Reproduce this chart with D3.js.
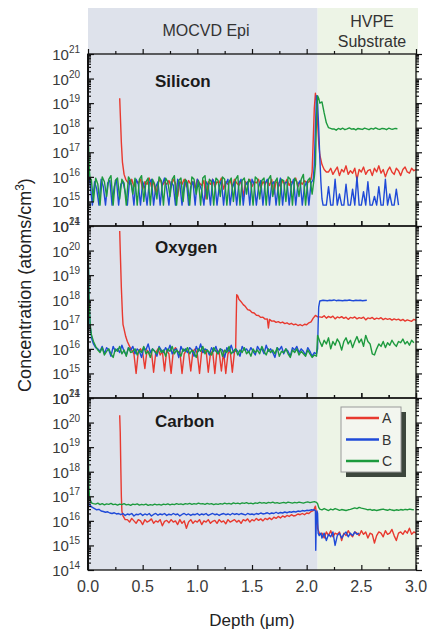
<!DOCTYPE html>
<html>
<head>
<meta charset="utf-8">
<script src="https://cdn.jsdelivr.net/npm/d3@7"></script>
<style>
  body { margin: 0; background: #fff; }
  text { font-family: "Liberation Sans", Arial, sans-serif; }
</style>
</head>
<body>
<div id="chart"></div>
<script>
// values are log10(concentration), depth in um
// pairs = [depth, log10 c] ; noise blocks are sampled every 0.02 um
var step = 0.02;

var siA_spike = [[0.29,19.2],[0.295,18.6],[0.305,17.4],[0.315,16.6],[0.33,16.1],[0.345,15.9]];
var siA_epi = [15.8,15.7,15.9,15.6,15.85,15.75,15.9,15.5,15.8,15.7,
  15.95,15.6,15.8,15.3,15.75,15.9,15.65,15.8,15.7,15.85,
  15.6,15.9,15.75,15.2,15.8,15.7,15.9,15.6,15.85,15.7,
  15.8,15.55,15.9,15.75,15.65,15.85,15.1,15.8,15.7,15.9,
  15.6,15.8,15.75,15.95,15.5,15.8,15.7,15.85,15.6,15.9,
  15.75,15.65,15.85,15.2,15.8,15.7,15.9,15.6,15.8,15.75,
  15.9,15.55,15.8,15.7,15.85,15.65,15.9,15.3,15.8,15.75,
  15.6,15.85,15.7,15.9,15.65,15.8,15.75,15.95,15.6,15.8,
  15.7,15.85,15.75,15.8,15.9];
var siA_peak = [[2.05,16.2],[2.06,17.5],[2.07,18.8],[2.08,19.4],[2.09,19.1],[2.10,18.2],[2.11,17.4],[2.12,16.9],[2.14,16.5],[2.16,16.3],[2.18,16.2]];
var siA_sub = [16.2,16.35,16.1,16.25,16.4,16.05,16.3,16.2,16.45,16.1,
  16.25,16.15,16.35,15.9,16.3,16.2,16.4,16.1,16.25,16.3,
  16.05,16.35,16.2,16.45,16.15,16.3,16.0,16.25,16.4,16.2,
  16.1,16.35,16.25,16.05,16.3,16.4,16.2,16.15,16.35,16.25,16.3];

var siB_surf = [[0,16.4],[0.01,16.0]];
var siB_epi = [15.7,14.85,15.8,15.5,14.85,15.9,15.6,14.85,15.75,15.85,
  14.85,15.6,15.9,14.85,15.7,15.8,15.4,14.85,15.85,15.65,
  14.85,15.9,15.7,14.85,15.8,15.55,14.85,15.75,15.9,14.85,
  15.6,15.8,14.85,15.7,15.95,15.5,14.85,15.8,15.65,14.85,
  15.9,15.7,14.85,15.75,15.85,14.85,15.6,15.8,14.85,15.9,
  15.7,15.45,14.85,15.8,15.65,14.85,15.9,15.75,14.85,15.6,
  15.85,14.85,15.7,15.9,14.85,15.55,15.8,14.85,15.75,15.9,
  14.85,15.65,15.8,14.85,15.9,15.7,14.85,15.6,15.85,14.85,
  15.75,15.9,14.85,15.7,15.8,14.85,15.6,15.95,14.85,15.75,
  15.8,14.85,15.65,15.9,14.85,15.7,15.85,14.85,15.6,15.8,
  14.85,15.75,15.9];
var siB_peak = [[2.07,16.5],[2.08,18.0],[2.09,19.3],[2.10,19.0],[2.11,18.0],[2.12,16.8],[2.13,15.8],[2.14,15.1],[2.15,14.85]];
var siB_sub = [14.85,14.85,15.6,14.85,14.85,15.9,14.85,15.3,14.85,14.85,
  15.7,14.85,14.85,15.5,14.85,16.0,14.85,14.85,15.4,14.85,
  15.8,14.85,14.85,15.2,14.85,15.6,14.85,14.85,15.9,14.85,
  15.3,14.85,14.85,15.5,14.85];

var siC_surf = [[0,18.1],[0.005,17.3],[0.012,16.3],[0.02,15.9]];
var siC_epi = [15.9,15.0,15.95,15.7,14.85,16.0,15.8,15.2,15.9,16.05,
  14.85,15.85,15.95,15.1,15.9,15.75,14.85,16.0,15.85,15.3,
  15.95,14.85,15.9,16.05,15.0,15.8,15.95,14.85,15.9,15.7,
  15.1,16.0,15.85,14.85,15.95,15.8,15.2,15.9,16.05,14.85,
  15.85,15.95,15.0,15.9,15.75,14.85,16.0,15.9,15.3,15.85,
  14.85,15.95,16.05,15.1,15.9,15.8,14.85,15.95,15.85,15.2,
  16.0,15.9,14.85,15.8,15.95,15.0,15.9,16.05,14.85,15.85,
  15.95,15.3,15.9,15.75,14.85,16.0,15.9,15.1,15.85,15.95,
  14.85,15.9,16.05,15.2,15.8,15.95,14.85,15.9,15.85,15.0,
  16.0,15.9,14.85,15.95,15.8,15.2,15.9,16.1,14.85,15.85,
  15.95,15.3,16.0];
var siC_peak = [[2.08,16.5],[2.09,18.4],[2.10,19.3],[2.11,19.2],[2.12,19.0],[2.14,19.05],[2.16,18.6],[2.18,18.2],[2.20,18.0],[2.23,17.95]];
var siC_sub = [17.95,17.9,17.97,17.93,17.98,17.92,17.95,17.99,17.94,17.96,
  17.91,17.97,17.95,17.93,17.98,17.95,17.92,17.97,17.94,17.99,
  17.95,17.93,17.97,17.96,17.92,17.98,17.95,17.94,17.97,17.96];

var oxA_spike = [[0.29,20.8],[0.295,20.0],[0.305,18.5],[0.315,17.4],[0.32,17.0],[0.33,16.8],[0.345,16.5],[0.36,16.3],[0.38,16.1]];
var oxA_epi = [15.95,15.8,15.0,15.9,16.0,15.85,15.2,15.95,15.8,15.9,
  15.05,15.85,16.0,15.75,15.9,15.1,15.95,15.8,15.0,15.9,
  16.05,15.85,15.9,15.0,15.8,15.95,15.85,15.1,15.9,16.0,
  15.8,15.0,15.9,15.85,15.95,15.05,15.8,15.9,15.0,15.95,
  15.85,15.1,15.9,15.0,15.8,15.95,15.05,15.9];
var oxA_bump = [[1.35,15.9],[1.36,18.2],[1.37,18.15],[1.38,18.02],[1.40,17.92],[1.42,17.8],[1.44,17.72],[1.46,17.6],[1.48,17.57],[1.50,17.48],
  [1.52,17.46],[1.54,17.37],[1.56,17.36],[1.58,17.28],[1.60,17.29],[1.62,17.21],[1.64,17.22],[1.65,16.85],[1.66,17.2],[1.68,17.13],
  [1.70,17.14],[1.72,17.08],[1.74,17.11],[1.76,17.06],[1.78,17.09],[1.80,17.03],[1.82,17.06],[1.84,17.0],[1.86,17.04],[1.88,16.98],
  [1.90,17.01],[1.92,16.95],[1.94,16.99],[1.96,16.94],[1.98,17.0],[2.00,16.98],[2.02,17.06],[2.04,17.1],[2.06,17.25],[2.08,17.36],[2.10,17.3]];
var oxA_sub = [17.3,17.28,17.35,17.25,17.32,17.27,17.33,17.22,17.3,17.26,
  17.31,17.24,17.29,17.2,17.28,17.25,17.3,17.22,17.27,17.24,
  17.29,17.18,17.26,17.23,17.28,17.2,17.25,17.22,17.27,17.19,
  17.24,17.2,17.23,17.17,17.22,17.18,17.21,17.15,17.2,17.13,
  17.18,17.15,17.12,17.2,17.16];

var oxB_surf = [[0,20.2],[0.005,19.0],[0.01,17.8],[0.02,16.9],[0.035,16.4],[0.05,16.2],[0.07,16.05]];
var oxB_epi = [16.0,15.9,16.1,15.8,16.05,15.95,15.7,16.1,15.9,16.0,
  15.85,16.15,15.9,15.75,16.05,15.95,16.1,15.8,16.0,15.9,
  15.65,16.05,15.95,16.2,15.85,16.0,15.9,15.7,16.1,15.95,
  15.85,16.05,15.9,16.15,15.8,15.95,16.0,15.65,16.1,15.9,
  16.0,15.85,16.05,15.95,15.7,16.1,15.9,16.2,15.85,16.0,
  15.95,15.75,16.05,15.9,16.1,15.8,16.0,15.95,15.65,16.05,
  15.9,16.15,15.85,16.0,15.9,15.7,16.1,15.95,16.0,15.85,
  16.05,15.9,15.75,16.1,15.95,16.0,15.8,16.15,15.9,16.0,
  15.85,15.65,16.05,15.95,16.1,15.8,16.0,15.9,15.7,16.05,
  15.95,16.1,15.85,16.0,15.9,15.75,16.05,15.9,15.7,15.85,
  15.8];
var oxB_step = [[2.10,16.0],[2.105,17.0],[2.11,17.7],[2.12,17.95],[2.15,17.98]];
var oxB_sub = [17.97,17.96,17.98,17.97,17.99,17.96,17.98,17.97,17.96,17.98,
  17.97,17.99,17.97,17.96,17.98,17.97,17.98,17.96,17.97,17.98];

var oxC_surf = [[0,20.4],[0.005,19.2],[0.01,18.0],[0.02,17.0],[0.03,16.6],[0.05,16.3],[0.07,16.1]];
var oxC_epi = [15.95,15.85,16.05,15.75,15.9,16.0,15.8,15.65,16.0,15.9,
  16.1,15.8,15.95,15.7,16.05,15.85,15.9,16.0,15.75,15.95,
  15.85,16.1,15.8,15.9,15.65,16.0,15.9,15.8,16.05,15.85,
  15.95,15.7,16.0,15.9,16.1,15.8,15.95,15.85,15.7,16.0,
  15.9,16.05,15.8,15.95,15.85,15.65,16.0,15.9,16.1,15.8,
  15.95,15.85,15.75,16.05,15.9,15.8,16.0,15.7,15.95,15.85,
  16.1,15.8,15.9,16.0,15.75,15.95,15.85,16.05,15.8,15.9,
  15.7,16.0,15.85,15.95,15.8,16.1,15.9,15.75,16.0,15.85,
  15.95,15.8,16.05,15.7,15.9,15.85,16.0,15.8,15.65,15.95,
  15.85,16.0,15.75,15.9,15.8,15.7,15.95,15.8,15.65,15.75,
  15.7];
var oxC_sub = [16.55,16.3,16.1,16.35,16.2,16.45,16.0,16.3,16.15,16.4,
  16.25,15.95,16.3,16.45,16.2,16.35,16.05,16.3,16.5,16.25,
  16.4,16.1,16.55,16.3,16.2,15.8,15.75,16.0,16.2,16.1,
  16.3,16.05,16.25,16.15,16.35,16.2,16.1,16.3,16.25,16.4,
  16.2,16.3,16.15,16.35,16.25];

var cA_spike = [[0.29,20.3],[0.295,19.6],[0.30,18.2],[0.305,17.0],[0.31,16.4],[0.32,16.2],[0.34,16.05]];
var cA_epi = [16.05,15.95,16.1,16.0,15.9,16.05,16.0,15.85,16.05,15.95,
  16.0,16.08,15.9,16.0,15.95,16.05,15.8,15.98,16.02,15.92,
  16.05,15.95,16.0,15.85,16.05,15.9,16.0,15.7,15.95,16.05,
  15.9,16.0,15.95,16.05,15.85,16.0,15.95,16.05,15.9,15.98,
  16.02,15.9,16.05,15.95,16.0,15.88,16.05,15.95,16.0,16.05,
  15.95,16.02,15.9,16.05,16.0,16.08,15.95,16.05,16.0,16.1,
  16.02,16.08,16.0,16.1,16.05,16.12,16.05,16.15,16.1,16.18,
  16.12,16.2,16.15,16.22,16.18,16.25,16.2,16.22,16.28,16.25,
  16.3,16.25,16.32,16.3,16.38,16.42];
var cA_edge = [[2.07,16.5],[2.08,16.6],[2.09,16.3],[2.10,15.7],[2.12,15.45]];
var cA_sub = [15.5,15.3,15.55,15.4,15.6,15.35,15.5,15.45,15.55,15.2,
  15.5,15.4,15.6,15.45,15.35,15.55,15.5,15.4,15.6,15.45,
  15.55,15.3,15.5,15.45,15.1,15.4,15.55,15.5,15.35,15.6,
  15.45,15.5,15.65,15.4,15.2,15.5,15.55,15.45,15.6,15.5,
  15.7,15.45,15.55,15.5];

var cB_epi = [16.75,16.62,16.55,16.5,16.45,16.47,16.4,16.38,16.35,16.37,
  16.32,16.3,16.33,16.28,16.3,16.25,16.3,16.22,16.28,16.25,
  16.3,16.2,16.27,16.25,16.3,16.22,16.28,16.24,16.3,16.2,
  16.26,16.3,16.23,16.28,16.25,16.3,16.22,16.27,16.24,16.3,
  16.25,16.28,16.2,16.26,16.3,16.24,16.28,16.22,16.27,16.25,
  16.3,16.23,16.28,16.25,16.3,16.22,16.26,16.3,16.25,16.28,
  16.22,16.27,16.3,16.25,16.28,16.24,16.3,16.26,16.29,16.25,
  16.3,16.27,16.24,16.3,16.26,16.28,16.25,16.3,16.27,16.32,
  16.28,16.3,16.33,16.28,16.32,16.3,16.35,16.3,16.34,16.32,
  16.36,16.33,16.37,16.35,16.38,16.36,16.4,16.38,16.42,16.4,
  16.43,16.42,16.45,16.44];
var cB_edge = [[2.07,16.45],[2.08,16.4],[2.083,14.8],[2.087,15.8],[2.095,16.4],[2.10,16.3],[2.105,15.5],[2.115,15.4],[2.13,15.5]];
var cB_sub = [15.3,15.5,15.2,15.45,15.35,15.55,15.0,15.4,15.5,15.3,
  15.45,15.55,15.35,15.5,15.4,15.55,15.45,15.5];

var cC_surf = [[0,20.1],[0.004,18.6],[0.008,17.4],[0.014,16.95],[0.025,16.8],[0.035,16.72]];
var cC_epi = [16.7,16.68,16.72,16.66,16.7,16.65,16.69,16.67,16.71,16.66,
  16.68,16.64,16.68,16.66,16.7,16.65,16.67,16.63,16.68,16.66,
  16.69,16.64,16.67,16.65,16.68,16.63,16.66,16.64,16.68,16.65,
  16.67,16.64,16.68,16.66,16.69,16.65,16.68,16.66,16.7,16.67,
  16.69,16.66,16.7,16.68,16.71,16.67,16.7,16.68,16.72,16.69,
  16.7,16.67,16.71,16.68,16.7,16.66,16.69,16.67,16.7,16.68,
  16.72,16.69,16.71,16.68,16.73,16.7,16.72,16.69,16.73,16.71,
  16.74,16.7,16.72,16.69,16.73,16.71,16.75,16.72,16.74,16.71,
  16.75,16.73,16.76,16.72,16.74,16.71,16.73,16.75,16.72,16.76,
  16.74,16.72,16.75,16.73,16.76,16.74,16.72,16.75,16.77,16.74,
  16.76,16.78,16.75];
var cC_edge = [[2.10,16.7],[2.11,16.55]];
var cC_sub = [16.48,16.45,16.5,16.46,16.42,16.48,16.45,16.5,16.47,16.43,
  16.46,16.44,16.42,16.45,16.47,16.5,16.53,16.5,16.55,16.52,
  16.5,16.48,16.45,16.47,16.43,16.45,16.42,16.44,16.46,16.48,
  16.45,16.43,16.47,16.44,16.42,16.45,16.43,16.46,16.44,16.47,
  16.45,16.48,16.46,16.45];

var samples = ["A", "B", "C"];
var colors = ["#e8392f", "#1f4ad8", "#1d9a3e"];
var elements = ["Silicon", "Oxygen", "Carbon"];
var decades = [14, 15, 16, 17, 18, 19, 20, 21];
var xTicks = [0, 0.5, 1.0, 1.5, 2.0, 2.5, 3.0];
var interfaceDepth = 2.1;

// a sampled block starting at depth x0
function block(x0, vals) {
  return vals.map(function(v, i) { return [x0 + i * step, v]; });
}

(function() {
  var panels = [
    { ty: 33, series: [
      [].concat(siA_spike, block(0.36, siA_epi), siA_peak, block(2.2, siA_sub)),
      [].concat(siB_surf, block(0.02, siB_epi), siB_peak, block(2.16, siB_sub)),
      [].concat(siC_surf, block(0.03, siC_epi), siC_peak, block(2.25, siC_sub))
    ]},
    { ty: 27, series: [
      [].concat(oxA_spike, block(0.40, oxA_epi), oxA_bump, block(2.12, oxA_sub)),
      [].concat(oxB_surf, block(0.09, oxB_epi), oxB_step, block(2.17, oxB_sub)),
      [].concat(oxC_surf, block(0.09, oxC_epi), block(2.10, oxC_sub))
    ]},
    { ty: 29, series: [
      [].concat(cA_spike, block(0.36, cA_epi), cA_edge, block(2.14, cA_sub)),
      [].concat(block(0, cB_epi), cB_edge, block(2.14, cB_sub)),
      [].concat(cC_surf, block(0.05, cC_epi), cC_edge, block(2.12, cC_sub))
    ]}
  ];

  var width = 432, height = 632;
  var left = 88, right = 416, plotTop = 54, panelH = 172;
  var plotBottom = plotTop + 3 * panelH;

  var svg = d3.select("#chart").append("svg")
    .attr("width", width)
    .attr("height", height);

  var x = d3.scaleLinear().domain([0, 3]).range([left, right]);

  // region shading
  svg.append("rect")
    .attr("x", left).attr("y", 8)
    .attr("width", x(interfaceDepth) - left).attr("height", plotBottom - 8)
    .attr("fill", "#dee2eb");
  svg.append("rect")
    .attr("x", x(interfaceDepth)).attr("y", 8)
    .attr("width", right + 2 - x(interfaceDepth)).attr("height", plotBottom - 8)
    .attr("fill", "#edf4e6");

  svg.append("text").attr("x", 206).attr("y", 36)
    .attr("text-anchor", "middle").attr("font-size", 16).attr("fill", "#333")
    .text("MOCVD Epi");
  svg.append("text").attr("x", 372).attr("y", 27)
    .attr("text-anchor", "middle").attr("font-size", 16).attr("fill", "#333")
    .text("HVPE");
  svg.append("text").attr("x", 372).attr("y", 47)
    .attr("text-anchor", "middle").attr("font-size", 16).attr("fill", "#333")
    .text("Substrate");

  var line = d3.line()
    .x(function(d) { return x(d[0]); });

  var minors = [];
  decades.slice(0, -1).forEach(function(e) {
    for (var k = 2; k < 10; k++) minors.push(k * Math.pow(10, e));
  });
  var majors = decades.map(function(e) { return Math.pow(10, e); });

  panels.forEach(function(p, pi) {
    var py = plotTop + pi * panelH;
    var y = d3.scaleLog().domain([1e14, 1e21]).range([py + panelH, py]);

    var g = svg.append("g");

    g.append("clipPath").attr("id", "clip" + pi)
      .append("rect").attr("x", left).attr("y", py)
      .attr("width", right - left).attr("height", panelH);

    var lines = g.append("g").attr("clip-path", "url(#clip" + pi + ")");
    line.y(function(d) { return y(Math.pow(10, d[1])); });
    p.series.forEach(function(s, si) {
      lines.append("path")
        .datum(s)
        .attr("fill", "none")
        .attr("stroke", colors[si])
        .attr("stroke-width", 1.4)
        .attr("stroke-linejoin", "round")
        .attr("d", line);
    });

    // inward ticks on all four sides
    [[d3.axisLeft, left, -1], [d3.axisRight, right, 1]].forEach(function(a) {
      g.append("g").attr("transform", "translate(" + a[1] + ",0)")
        .call(a[0](y).tickValues(majors).tickSize(6 * a[2]).tickFormat(""))
        .call(function(s) { s.select(".domain").remove(); });
      g.append("g").attr("transform", "translate(" + a[1] + ",0)")
        .call(a[0](y).tickValues(minors).tickSize(3 * a[2]).tickFormat(""))
        .call(function(s) { s.select(".domain").remove(); });
    });
    [[d3.axisTop, py + panelH, 1], [d3.axisBottom, py, -1]].forEach(function(a) {
      g.append("g").attr("transform", "translate(0," + a[1] + ")")
        .call(a[0](x).tickValues(xTicks).tickSize(5 * a[2]).tickFormat(""))
        .call(function(s) { s.select(".domain").remove(); });
      g.append("g").attr("transform", "translate(0," + a[1] + ")")
        .call(a[0](x).tickValues([0.25, 0.75, 1.25, 1.75, 2.25, 2.75]).tickSize(3 * a[2]).tickFormat(""))
        .call(function(s) { s.select(".domain").remove(); });
    });
    g.selectAll(".tick line").attr("stroke", "#111").attr("stroke-width", 1.2);

    g.append("rect")
      .attr("x", left).attr("y", py)
      .attr("width", right - left).attr("height", panelH)
      .attr("fill", "none").attr("stroke", "#111").attr("stroke-width", 1.3);

    // decade labels 10^n
    var lab = g.selectAll(".ylab").data(decades).enter().append("text")
      .attr("class", "ylab")
      .attr("x", 80)
      .attr("y", function(e) { return y(Math.pow(10, e)) + 6; })
      .attr("text-anchor", "end")
      .attr("font-size", 15)
      .attr("fill", "#3a3a3a");
    lab.append("tspan").text("10");
    lab.append("tspan").attr("dy", -7).attr("font-size", 10)
      .text(function(e) { return e; });

    g.append("text")
      .attr("x", 155).attr("y", py + p.ty)
      .attr("font-size", 17).attr("font-weight", "bold").attr("fill", "#1a1a1a")
      .text(elements[pi]);
  });

  // left spine looks heavier
  svg.append("line")
    .attr("x1", left).attr("x2", left)
    .attr("y1", plotTop).attr("y2", plotBottom)
    .attr("stroke", "#111").attr("stroke-width", 2);

  svg.selectAll(".xlab").data(xTicks).enter().append("text")
    .attr("x", function(d) { return x(d); })
    .attr("y", plotBottom + 22)
    .attr("text-anchor", "middle")
    .attr("font-size", 16)
    .attr("fill", "#3a3a3a")
    .text(function(d) { return d.toFixed(1); });

  svg.append("text")
    .attr("x", (left + right) / 2).attr("y", 626)
    .attr("text-anchor", "middle").attr("font-size", 17).attr("fill", "#222")
    .text("Depth (\u03bcm)");

  var yt = svg.append("text")
    .attr("transform", "translate(31,285) rotate(-90)")
    .attr("text-anchor", "middle").attr("font-size", 18).attr("fill", "#222");
  yt.append("tspan").text("Concentration (atoms/cm");
  yt.append("tspan").attr("dy", -7).attr("font-size", 12).text("3");
  yt.append("tspan").attr("dy", 7).text(")");

  // legend
  var lg = svg.append("g").attr("transform", "translate(341,407)");
  lg.append("rect").attr("x", 5).attr("y", 5).attr("width", 60).attr("height", 65).attr("fill", "#3c463c");
  lg.append("rect").attr("width", 60).attr("height", 65)
    .attr("fill", "#f3f6ef").attr("stroke", "#9a9a9a").attr("stroke-width", 1);
  samples.forEach(function(s, i) {
    lg.append("line")
      .attr("x1", 5).attr("x2", 38)
      .attr("y1", 11 + i * 21.5).attr("y2", 11 + i * 21.5)
      .attr("stroke", colors[i]).attr("stroke-width", 2.5);
    lg.append("text")
      .attr("x", 41).attr("y", 16 + i * 21.5)
      .attr("font-size", 14).attr("fill", "#333")
      .text(s);
  });
})();
</script>
</body>
</html>
